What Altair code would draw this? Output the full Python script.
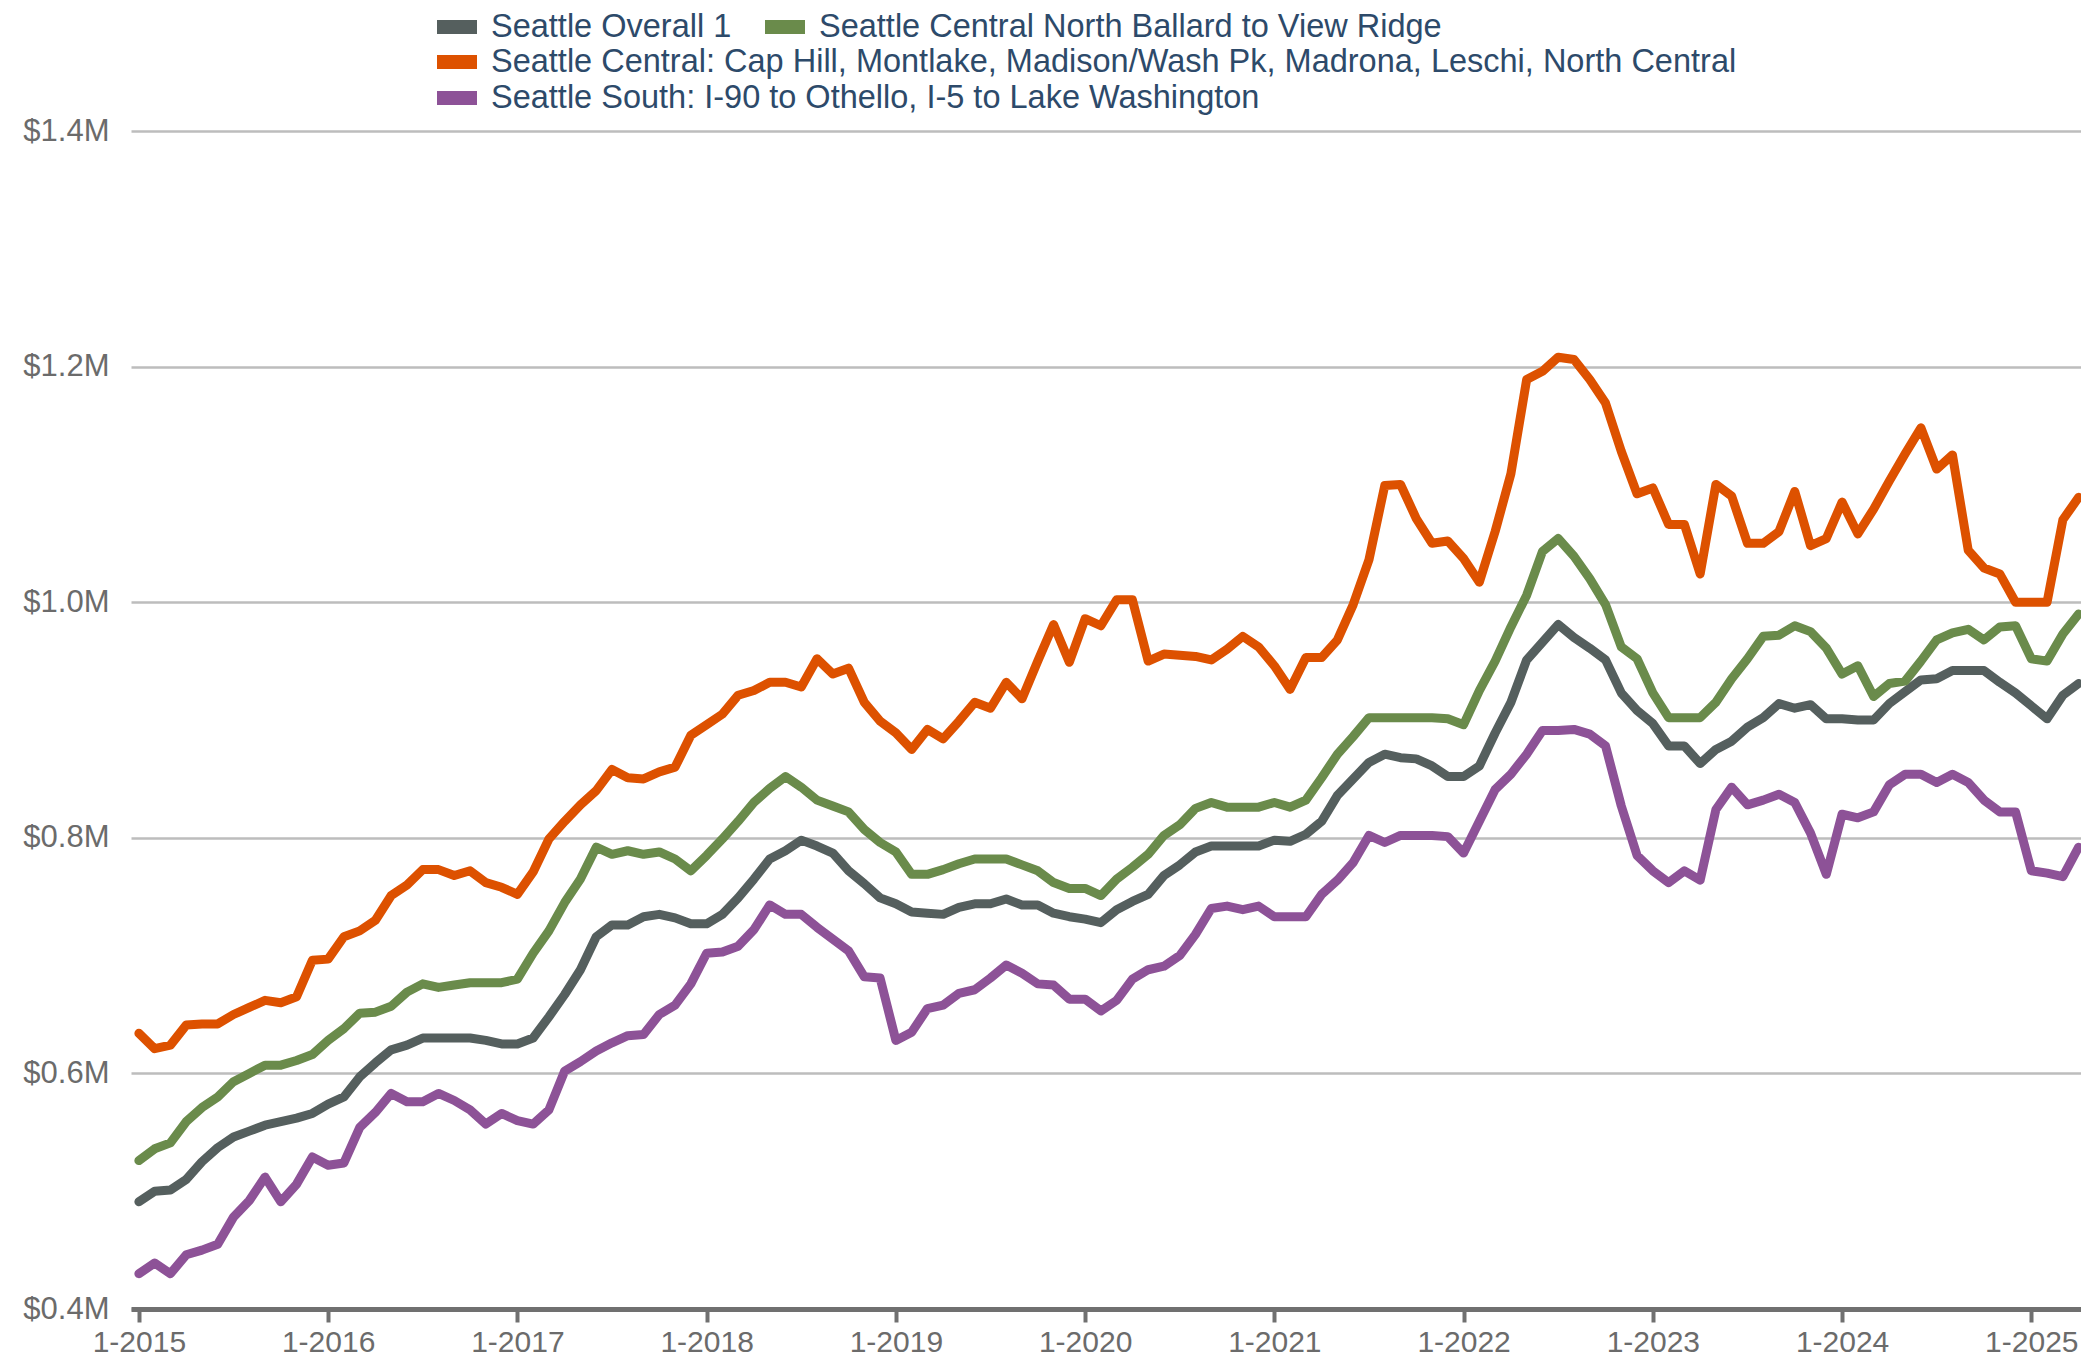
import altair as alt
import pandas as pd

# Monthly index: 0 = Jan 2015 ... 123 = Apr 2025
series_names = [
    "Seattle Overall 1",
    "Seattle Central North Ballard to View Ridge",
    "Seattle Central: Cap Hill, Montlake, Madison/Wash Pk, Madrona, Leschi, North Central",
    "Seattle South: I-90 to Othello, I-5 to Lake Washington",
]
series_colors = ["#555F5E", "#6A8B4B", "#DD5100", "#8D5297"]

overall = [
    0.491, 0.500, 0.501, 0.510, 0.525, 0.537, 0.546, 0.551, 0.556, 0.559, 0.562, 0.566,
    0.574, 0.580, 0.597, 0.609, 0.620, 0.624, 0.630, 0.630, 0.630, 0.630, 0.628, 0.625,
    0.625, 0.630, 0.648, 0.667, 0.688, 0.716, 0.726, 0.726, 0.733, 0.735, 0.732, 0.727,
    0.727, 0.735, 0.749, 0.765, 0.782, 0.789, 0.798, 0.793, 0.787, 0.772, 0.761, 0.749,
    0.744, 0.737, 0.736, 0.735, 0.741, 0.744, 0.744, 0.748, 0.743, 0.743, 0.736, 0.733,
    0.731, 0.728, 0.739, 0.746, 0.752, 0.768, 0.777, 0.788, 0.793, 0.793, 0.793, 0.793,
    0.798, 0.797, 0.803, 0.814, 0.836, 0.850, 0.864, 0.871, 0.868, 0.867, 0.861, 0.852,
    0.852, 0.861, 0.889, 0.915, 0.951, 0.966, 0.981, 0.970, 0.961, 0.951, 0.923, 0.908,
    0.897, 0.878, 0.878, 0.863, 0.875, 0.882, 0.894, 0.902, 0.914, 0.910, 0.913, 0.901,
    0.901, 0.900, 0.900, 0.914, 0.924, 0.934, 0.935, 0.942, 0.942, 0.942, 0.932, 0.923,
    0.912, 0.901, 0.921, 0.931,
]
ballard = [
    0.526, 0.536, 0.541, 0.559, 0.571, 0.580, 0.593, 0.600, 0.607, 0.607, 0.611, 0.616,
    0.628, 0.638, 0.651, 0.652, 0.657, 0.669, 0.676, 0.673, 0.675, 0.677, 0.677, 0.677,
    0.680, 0.702, 0.721, 0.745, 0.765, 0.792, 0.786, 0.789, 0.786, 0.788, 0.782, 0.772,
    0.785, 0.799, 0.814, 0.830, 0.842, 0.852, 0.843, 0.832, 0.827, 0.822, 0.807, 0.796,
    0.788, 0.769, 0.769, 0.773, 0.778, 0.782, 0.782, 0.782, 0.777, 0.772, 0.762, 0.757,
    0.757, 0.751, 0.765, 0.775, 0.786, 0.802, 0.811, 0.825, 0.830, 0.826, 0.826, 0.826,
    0.830, 0.826, 0.832, 0.851, 0.871, 0.886, 0.902, 0.902, 0.902, 0.902, 0.902, 0.901,
    0.896, 0.925, 0.950, 0.979, 1.006, 1.043, 1.054, 1.039, 1.020, 0.998, 0.962, 0.952,
    0.923, 0.902, 0.902, 0.902, 0.915, 0.935, 0.952, 0.971, 0.972, 0.980, 0.975, 0.961,
    0.939, 0.946, 0.920, 0.931, 0.933, 0.950, 0.968, 0.974, 0.977, 0.968, 0.979, 0.980,
    0.952, 0.950, 0.973, 0.990,
]
cap_hill = [
    0.634, 0.621, 0.624, 0.641, 0.642, 0.642, 0.650, 0.656, 0.662, 0.660, 0.665, 0.696,
    0.697, 0.716, 0.721, 0.730, 0.751, 0.760, 0.773, 0.773, 0.768, 0.772, 0.762, 0.758,
    0.752, 0.771, 0.799, 0.814, 0.828, 0.840, 0.858, 0.851, 0.850, 0.856, 0.860, 0.887,
    0.896, 0.905, 0.921, 0.925, 0.932, 0.932, 0.928, 0.952, 0.939, 0.944, 0.915, 0.899,
    0.889, 0.875, 0.892, 0.884, 0.899, 0.915, 0.910, 0.932, 0.918, 0.950, 0.981, 0.949,
    0.986, 0.980, 1.002, 1.002, 0.950, 0.956, 0.955, 0.954, 0.951, 0.960, 0.971, 0.962,
    0.946, 0.926, 0.953, 0.953, 0.968, 0.998, 1.036, 1.099, 1.100, 1.071, 1.050, 1.052,
    1.037, 1.017, 1.060, 1.109, 1.189, 1.196, 1.208, 1.206, 1.189, 1.169, 1.128, 1.092,
    1.097, 1.066, 1.066, 1.024, 1.100, 1.090, 1.050, 1.050, 1.060, 1.094, 1.048, 1.054,
    1.085, 1.058, 1.079, 1.103, 1.126, 1.148, 1.113, 1.125, 1.044, 1.029, 1.024, 1.000,
    1.000, 1.000, 1.070, 1.089,
]
south = [
    0.430, 0.439, 0.430, 0.446, 0.450, 0.455, 0.478, 0.492, 0.512, 0.491, 0.506, 0.529,
    0.522, 0.524, 0.554, 0.567, 0.583, 0.576, 0.576, 0.583, 0.577, 0.569, 0.557, 0.566,
    0.560, 0.557, 0.569, 0.602, 0.610, 0.619, 0.626, 0.632, 0.633, 0.650, 0.658, 0.676,
    0.702, 0.703, 0.708, 0.722, 0.743, 0.735, 0.735, 0.724, 0.714, 0.704, 0.682, 0.681,
    0.628, 0.635, 0.655, 0.658, 0.668, 0.671, 0.681, 0.692, 0.685, 0.676, 0.675, 0.663,
    0.663, 0.653, 0.662, 0.680, 0.688, 0.691, 0.700, 0.718, 0.740, 0.742, 0.739, 0.742,
    0.733, 0.733, 0.733, 0.752, 0.764, 0.779, 0.802, 0.796, 0.802, 0.802, 0.802, 0.801,
    0.787, 0.814, 0.841, 0.854, 0.871, 0.891, 0.891, 0.892, 0.888, 0.878, 0.827, 0.785,
    0.772, 0.762, 0.772, 0.764, 0.824, 0.843, 0.828, 0.832, 0.837, 0.830, 0.804, 0.769,
    0.820, 0.817, 0.822, 0.845, 0.854, 0.854, 0.847, 0.854, 0.847, 0.832, 0.822, 0.822,
    0.772, 0.770, 0.767, 0.792,
]

x_tick_values = [0, 12, 24, 36, 48, 60, 72, 84, 96, 108, 120]
x_tick_labels = ["1-2015", "1-2016", "1-2017", "1-2018", "1-2019", "1-2020",
                 "1-2021", "1-2022", "1-2023", "1-2024", "1-2025"]
y_tick_values = [0.4, 0.6, 0.8, 1.0, 1.2, 1.4]
y_tick_labels = ["$0.4M", "$0.6M", "$0.8M", "$1.0M", "$1.2M", "$1.4M"]

rows = []
for name, vals in zip(series_names, [overall, ballard, cap_hill, south]):
    for i, v in enumerate(vals):
        rows.append({"series": name, "m": i, "v": v})
df = pd.DataFrame(rows)

x_label_expr = "[" + ",".join("'%s'" % s for s in x_tick_labels) + "][round(datum.value/12)]"
y_label_expr = "[" + ",".join("'%s'" % s for s in y_tick_labels) + "][round((datum.value-0.4)/0.2)]"

FONT = "Liberation Sans"
AXIS_COLOR = "#6B6B6B"

x_enc = alt.X(
    "m:Q",
    scale=alt.Scale(domain=[-0.5, 123.15], nice=False, zero=False),
    axis=alt.Axis(values=x_tick_values, labelExpr=x_label_expr, title=None, grid=False,
                  domainColor="#707070", domainWidth=5, tickColor="#707070", tickWidth=4,
                  tickSize=13, labelFontSize=30, labelColor=AXIS_COLOR, labelPadding=5,
                  labelFont=FONT, labelFlush=False, labelOverlap=False),
)
y_enc = alt.Y(
    "v:Q",
    scale=alt.Scale(domain=[0.4, 1.4], nice=False, zero=False),
    axis=alt.Axis(values=y_tick_values, labelExpr=y_label_expr, title=None, domain=False,
                  ticks=False, gridColor="#BDBDBD", gridWidth=2.5, labelFontSize=31,
                  labelColor=AXIS_COLOR, labelPadding=22, labelFont=FONT),
)


def make_legend(y):
    return alt.Legend(orient="none", legendX=299, legendY=y, direction="horizontal",
                      title=None, symbolType="stroke", symbolSize=1600, symbolStrokeWidth=14,
                      labelFontSize=32.5, labelFont=FONT, labelColor="#2D4A6A",
                      labelLimit=3000, labelOffset=7, columnPadding=5, padding=0)


def layer(names, colors, legend_y):
    return alt.Chart(df).transform_filter(
        alt.FieldOneOfPredicate(field="series", oneOf=names)
    ).mark_line(strokeWidth=9, strokeCap="round", strokeJoin="round").encode(
        x=x_enc,
        y=y_enc,
        color=alt.Color("series:N", scale=alt.Scale(domain=names, range=colors),
                        legend=make_legend(legend_y)),
    )


l1 = layer(series_names[:2], series_colors[:2], -131)
l2 = layer(series_names[2:3], series_colors[2:3], -96)
l3 = layer(series_names[3:4], series_colors[3:4], -60)

chart = alt.layer(l2, l1, l3).resolve_scale(color="independent").properties(
    width=1950, height=1178,
    autosize=alt.AutoSizeParams(type="none"),
    padding={"left": 123, "top": 123, "right": 0, "bottom": 50},
).configure_view(strokeWidth=0)

chart.save("out.html", embed_options={"renderer": "svg", "actions": False})
